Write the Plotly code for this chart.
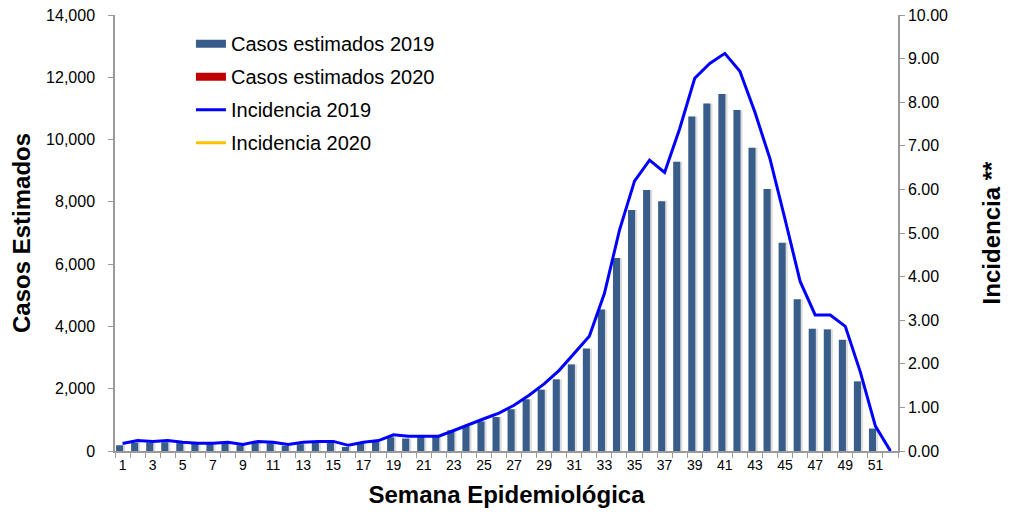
import plotly.graph_objects as go

semanas = [str(i) for i in range(1, 53)]
tick_labels = [s if int(s) % 2 == 1 else "" for s in semanas]

casos_2019 = [185, 270, 270, 280, 255, 230, 230, 255, 185, 270,
              250, 170, 220, 270, 270, 130, 240, 290, 440, 400,
              460, 480, 663, 800, 950, 1090, 1340, 1660, 1970, 2300,
              2780, 3290, 4540, 6200, 7740, 8380, 8020, 9290, 10740, 11160,
              11460, 10950, 9740, 8415, 6690, 4875, 3925, 3905, 3570, 2235,
              720, 0]
casos_2020 = [None] * 52

incidencia_2019 = [0.17, 0.24, 0.22, 0.24, 0.20, 0.18, 0.18, 0.20, 0.15, 0.22,
                   0.20, 0.15, 0.20, 0.22, 0.22, 0.13, 0.20, 0.24, 0.37, 0.34,
                   0.34, 0.34, 0.47, 0.61, 0.74, 0.87, 1.05, 1.28, 1.54, 1.85,
                   2.23, 2.63, 3.61, 5.06, 6.19, 6.67, 6.39, 7.39, 8.55, 8.89,
                   9.12, 8.71, 7.77, 6.70, 5.31, 3.89, 3.12, 3.12, 2.86, 1.81,
                   0.57, 0.0]
incidencia_2020 = [None] * 52

BAR_BLUE = "#385d8a"
BAR_RED = "#c00000"
AXIS_GRAY = "#9a9a9a"
FONT = "Liberation Sans, Arial, sans-serif"

fig = go.Figure()

# soft shadow behind 2019 bars
fig.add_trace(go.Bar(x=semanas, y=casos_2019, offset=-0.38, width=0.56,
                     marker=dict(color="#dddddd", line=dict(width=0)),
                     showlegend=False, hoverinfo="skip"))
fig.add_trace(go.Bar(x=semanas, y=casos_2019, name="Casos estimados 2019",
                     offset=-0.43, width=0.47, showlegend=False,
                     marker=dict(color=BAR_BLUE, line=dict(width=0))))
fig.add_trace(go.Bar(x=semanas, y=casos_2020, name="Casos estimados 2020",
                     offset=0.05, width=0.47, showlegend=False,
                     marker=dict(color=BAR_RED, line=dict(width=0))))

# legend entries (wide rectangular swatches for the bar series)
fig.add_trace(go.Scatter(x=[None], y=[None], name="Casos estimados 2019",
                         mode="lines", line=dict(color=BAR_BLUE, width=8),
                         legendgroup="a"))
fig.add_trace(go.Scatter(x=[None], y=[None], name="Casos estimados 2020",
                         mode="lines", line=dict(color=BAR_RED, width=8),
                         legendgroup="b"))

fig.add_trace(go.Scatter(x=semanas, y=incidencia_2019, name="Incidencia 2019",
                         mode="lines", yaxis="y2", legendgroup="c",
                         line=dict(color="#0000ff", width=3)))
fig.add_trace(go.Scatter(x=semanas, y=incidencia_2020, name="Incidencia 2020",
                         mode="lines", yaxis="y2", legendgroup="d",
                         line=dict(color="#ffc000", width=3)))

fig.update_layout(
    width=1013, height=517,
    margin=dict(l=107, r=123, t=7, b=74, autoexpand=False),
    paper_bgcolor="white", plot_bgcolor="white",
    barmode="overlay",
    font=dict(family=FONT, color="#000000"),
    xaxis=dict(
        type="category", range=[-0.5, 51.5], automargin=False,
        tickmode="array", tickvals=semanas, ticktext=tick_labels,
        tickson="boundaries", ticks="outside", ticklen=5, tickcolor=AXIS_GRAY,
        showline=True, linecolor=AXIS_GRAY, linewidth=1.5,
        showgrid=False, tickangle=0,
        tickfont=dict(size=14),
        title=dict(text="<b>Semana Epidemiológica</b>", font=dict(size=24), standoff=15),
    ),
    yaxis=dict(
        range=[0, 14000], dtick=2000, tickformat=",", automargin=False,
        ticks="outside", ticklen=5, tickcolor=AXIS_GRAY,
        showline=True, linecolor=AXIS_GRAY, linewidth=1.5,
        showgrid=False, zeroline=False, ticklabeloverflow="allow",
        tickfont=dict(size=16), ticklabelstandoff=10,
        title=dict(text="<b>Casos Estimados</b>", font=dict(size=24), standoff=11),
    ),
    yaxis2=dict(
        overlaying="y", side="right", automargin=False,
        range=[0, 10], dtick=1, tickformat=".2f",
        ticks="outside", ticklen=5, tickcolor=AXIS_GRAY,
        showline=True, linecolor=AXIS_GRAY, linewidth=1.5,
        showgrid=False, zeroline=False, ticklabeloverflow="allow",
        tickfont=dict(size=16),
        title=dict(text="<b>Incidencia **</b>", font=dict(size=24), standoff=36),
    ),
    legend=dict(
        x=0.097, y=0.979, xanchor="left", yanchor="top",
        bgcolor="rgba(0,0,0,0)", font=dict(size=20),
        traceorder="grouped", tracegroupgap=4, itemwidth=30,
    ),
)

fig.write_html("out.html")
